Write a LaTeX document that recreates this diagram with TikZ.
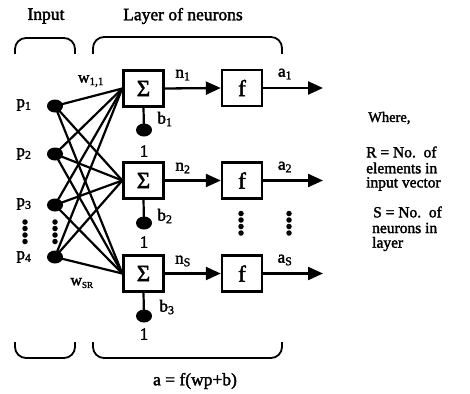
\documentclass[tikz,border=0pt]{standalone}
\usepackage{fontspec}
\setmainfont{Liberation Serif}[FakeBold=2]
\usetikzlibrary{arrows.meta}
\begin{document}
\begin{tikzpicture}[x=1pt,y=-1pt,
  txt/.style={font=\fontsize{17}{18}\selectfont, inner sep=0pt},
  head/.style={font=\fontsize{17.5}{19}\selectfont, inner sep=0pt},
  legend/.style={font=\fontsize{15.5}{17}\selectfont, inner sep=0pt, anchor=west},
  sumbox/.style={draw, line width=2.4pt, minimum width=40pt, minimum height=36pt,
    inner sep=0pt, font=\fontsize{23}{24}\selectfont},
  fbox/.style={sumbox},
  wire/.style={line width=2.2pt},
  sig/.style={line width=2.3pt, -{Triangle[length=15pt,width=13pt]}},
  brace/.style={line width=1.8pt, rounded corners=11pt},
  vdot/.style={fill, circle, inner sep=0pt, minimum size=5.5pt}
]
\useasboundingbox (0,0) rectangle (470,393);

% headings
\node[head] (hin) at (46,16) {Input};
\node[head] (hlay) at (183,16) {Layer of neurons};

% braces
\draw[brace] (15,54) -- (15,38) -- (75,38) -- (75,54);
\draw[brace] (93,54) -- (93,37) -- (282,37) -- (282,54);
\draw[brace] (15,342) -- (15,358) -- (75,358) -- (75,342);
\draw[brace] (93,342) -- (93,358) -- (282,358) -- (282,342);

% inputs
\foreach \i/\y in {1/106,2/154,3/205,4/257}{
  \coordinate (p\i) at (55,\y);
}
\node[txt] (lp1) at (24,105) {p\textsubscript{1}};
\node[txt] (lp2) at (24,154) {p\textsubscript{2}};
\node[txt] (lp3) at (24,204) {p\textsubscript{3}};
\node[txt] (lp4) at (24,257) {p\textsubscript{4}};

% vertical ellipsis between p3 and p4
\foreach \x in {25,55}{
  \foreach \y in {222,228.5,235,241.5}{
    \node[vdot] at (\x,\y) {};
  }
}

% summation and transfer boxes
\node[sumbox] (s1) at (143.5,88.5) {Σ};
\node[sumbox] (s2) at (143.5,180.5) {Σ};
\node[sumbox] (s3) at (143.5,273.5) {Σ};
\node[fbox] (f1) at (242,88) {f};
\node[fbox] (f2) at (242,180.5) {f};
\node[fbox] (f3) at (242,273.5) {f};

% weighted connections
\foreach \i in {1,2,3,4}{
  \foreach \j in {1,2,3}{
    \draw[wire] (p\i) -- (s\j.west);
  }
  \fill (p\i) ellipse [x radius=8pt, y radius=6.5pt];
}
\node[txt, font=\fontsize{16}{17}\selectfont] (w11) at (91,81) {w\textsubscript{1,1}};
\node[txt, font=\fontsize{16}{17}\selectfont] (wsr) at (82,283) {w\textsubscript{\fontsize{9}{10}\selectfont SR}};

% net inputs and outputs
\coordinate (o1) at (323,88);
\coordinate (o2) at (323,180.5);
\coordinate (o3) at (323,273.5);
\foreach \j in {1,2,3}{
  \draw[sig] (s\j.east) -- (f\j.west);
  \draw[sig] (f\j.east) -- (o\j);
}
\node[txt] (n1) at (183,75) {n\textsubscript{1}};
\node[txt] (n2) at (183,168) {n\textsubscript{2}};
\node[txt] (n3) at (183,261) {n\textsubscript{S}};
\node[txt] (a1) at (285,74) {a\textsubscript{1}};
\node[txt] (a2) at (285,167) {a\textsubscript{2}};
\node[txt] (a3) at (285,260) {a\textsubscript{S}};

% vertical ellipsis between layer rows
\foreach \x in {241,289}{
  \foreach \y in {213.5,220,226.5,233}{
    \node[vdot] at (\x,\y) {};
  }
}

% biases
\foreach \j/\y in {1/130,2/223,3/316}{
  \coordinate (d\j) at (144,\y);
  \draw[wire] (s\j.south) -- (d\j);
  \fill (d\j) ellipse [x radius=8pt, y radius=6.5pt];
}
\node[txt] (b1) at (165,119) {b\textsubscript{1}};
\node[txt] (b2) at (165,216) {b\textsubscript{2}};
\node[txt] (b3) at (167,307) {b\textsubscript{3}};
\node[txt] (one1) at (144,151) {1};
\node[txt] (one2) at (144,242) {1};
\node[txt] (one3) at (144,334) {1};

% layer equation
\node[head] (eq) at (195,381) {a = f(wp+b)};

% legend
\node[legend, font=\fontsize{14.5}{16}\selectfont] (wh) at (368,118) {Where,};
\node[legend] (r1) at (366,152) {R = No.\ \ of};
\node[legend] (r2) at (366,168) {elements in};
\node[legend] (r3) at (366,184) {input vector};
\node[legend] (q1) at (373,212) {S = No.\ \ of};
\node[legend] (q2) at (372,228) {neurons in};
\node[legend] (q3) at (372,244) {layer};
\end{tikzpicture}
\end{document}
